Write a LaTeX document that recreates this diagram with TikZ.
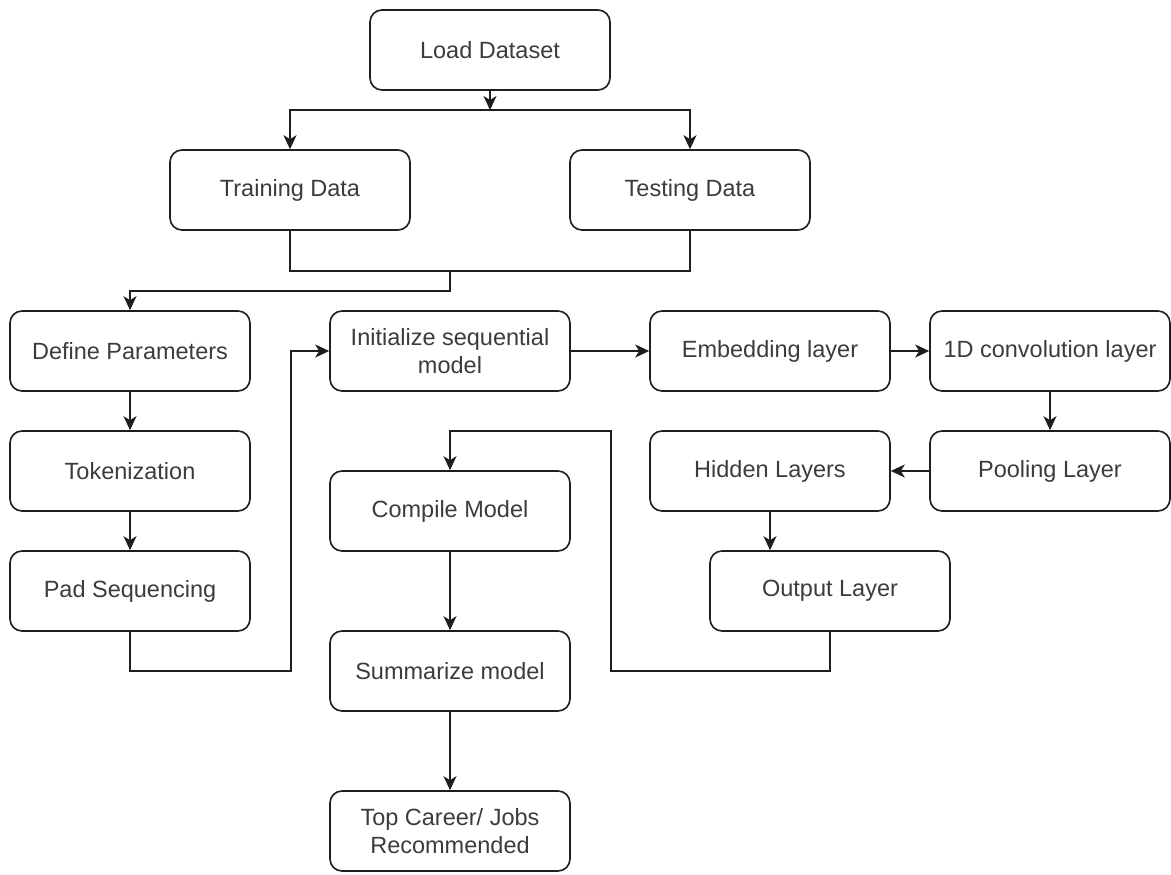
\documentclass[tikz,border=0pt]{standalone}
\usepackage{fontspec}
\setmainfont{Liberation Sans}
\usetikzlibrary{arrows.meta}
\definecolor{boxline}{RGB}{30,30,30}
\definecolor{labeltext}{RGB}{60,60,60}
\begin{document}
\begin{tikzpicture}[x=1pt,y=-1pt,
  stepbox/.style={draw=boxline, line width=1.6pt, rounded corners=12pt,
    minimum width=240pt, minimum height=80pt, inner sep=0pt,
    text=labeltext, align=center, font=\fontsize{23.5}{28}\selectfont},
  flow/.style={draw=boxline, line width=1.6pt,
    -{Stealth[length=14pt,width=13pt,inset=4pt]}},
  link/.style={draw=boxline, line width=1.6pt}]
\useasboundingbox (0,0) rectangle (1171,875);
\fill[white] (0,0) rectangle (1171,875);

% data preparation
\node[stepbox] (load)   at (490,50)  {Load Dataset};
\node[stepbox] (train)  at (290,190) {Training Data};
\node[stepbox] (test)   at (690,190) {Testing Data};
\node[stepbox] (define) at (130,351) {Define Parameters};
\node[stepbox] (token)  at (130,471) {Tokenization};
\node[stepbox] (pad)    at (130,591) {Pad Sequencing};

% model layers
\node[stepbox] (init)   at (450,351) {Initialize sequential\\model};
\node[stepbox] (embed)  at (770,351) {Embedding layer};
\node[stepbox] (conv)   at (1050,351) {1D convolution layer};
\node[stepbox] (pool)   at (1050,471) {Pooling Layer};
\node[stepbox] (hidden) at (770,471) {Hidden Layers};
\node[stepbox] (output) at (830,591) {Output Layer};

% training and result
\node[stepbox] (compile) at (450,511) {Compile Model};
\node[stepbox] (summ)    at (450,671) {Summarize model};
\node[stepbox] (top)     at (450,831) {Top Career/ Jobs\\Recommended};

% routing points
\coordinate (split) at (490,110);
\coordinate (merge) at (450,271);
\coordinate (padturn) at (291,671);
\coordinate (outturn) at (611,671);
\coordinate (outtop) at (611,431);

% connectors
\draw[flow] (load.south) -- (split);
\draw[flow] (split) -| (train.north);
\draw[flow] (split) -| (test.north);
\draw[link] (train.south) |- (merge) -| (test.south);
\draw[flow] (merge) -- ++(0,20) -| (define.north);
\draw[flow] (define) -- (token);
\draw[flow] (token) -- (pad);
\draw[flow] (pad.south) |- (padturn) |- (init.west);
\draw[flow] (init) -- (embed);
\draw[flow] (embed) -- (conv);
\draw[flow] (conv) -- (pool);
\draw[flow] (pool) -- (hidden);
\draw[flow] (hidden.south) -- (hidden.south |- output.north);
\draw[flow] (output.south) |- (outturn) -- (outtop) -| (compile.north);
\draw[flow] (compile) -- (summ);
\draw[flow] (summ) -- (top);
\end{tikzpicture}
\end{document}
